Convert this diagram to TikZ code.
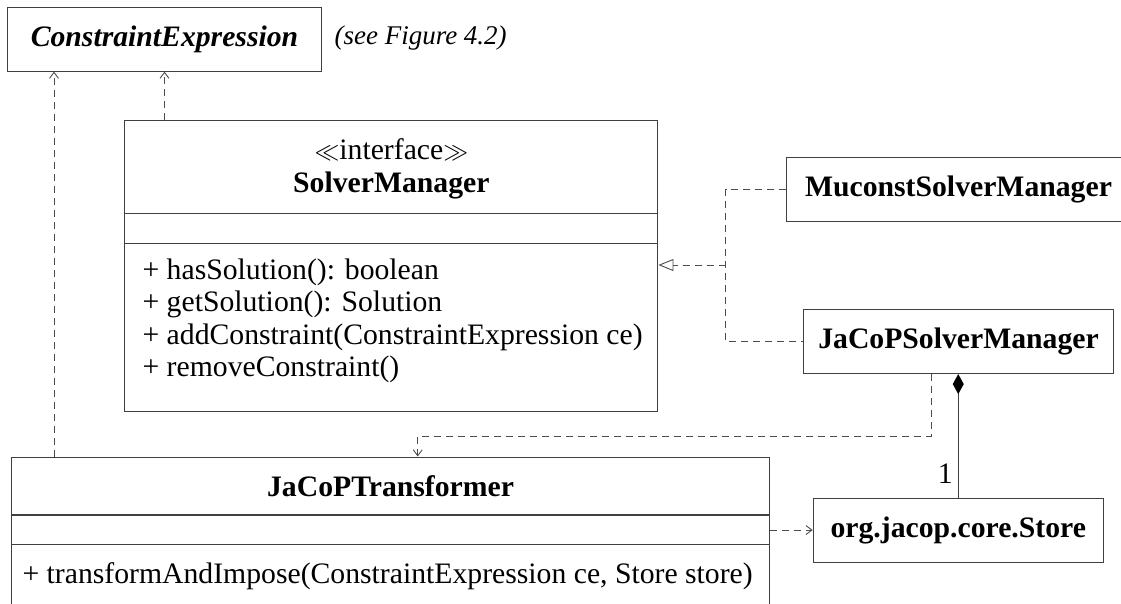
\documentclass[tikz,border=0pt]{standalone}
\usepackage{fontspec}
\setmainfont{Liberation Serif}
\usetikzlibrary{arrows.meta,calc}

\begin{document}
\begin{tikzpicture}[x=1pt,y=-1pt,
  line width=1.1pt,
  every node/.style={font=\fontsize{29.7}{32.5}\selectfont, inner sep=0pt},
  classbox/.style={draw=black!75, rectangle, anchor=north west, minimum width=#1},
  divider/.style={draw=black!75},
  dashline/.style={draw=black!70, line width=0.95pt, dash pattern=on 7pt off 5pt},
  dep/.style={dashline, -{Straight Barb[length=6pt,width=9pt,line width=0.9pt]}},
  real/.style={dashline, -{Triangle[open,length=15pt,width=12pt,line width=0.9pt]}},
  comp/.style={draw=black!75, -{Diamond[length=20pt,width=11pt,color=black,fill=black]}},
  title/.style={font=\fontsize{29.7}{32.5}\selectfont\bfseries},
  member/.style={anchor=west, align=left}
]
\path[use as bounding box, clip] (0,0) rectangle (1121,603);

% ---- ConstraintExpression (abstract) ----
\node[classbox=313.5pt, minimum height=64pt] (ce) at (7.2,6.5) {};
\node[font=\fontsize{29.7}{32.5}\selectfont\bfseries\itshape] (cet) at (ce.center) {ConstraintExpression};
\node[anchor=west, font=\fontsize{27}{32.5}\selectfont\itshape] (cen) at (334,38) {(see Figure 4.2)};

% ---- SolverManager interface ----
\node[classbox=533pt, minimum height=291pt] (sm) at (124.3,119.5) {};
\node (smst) at ($(sm.north)+(0,30.5)$) {$\ll$interface$\gg$};
\node[title] (smt) at ($(sm.north)+(0,66)$) {SolverManager};
\draw[divider] ($(sm.north west)+(0,94)$) coordinate (sm1) -- (sm1 -| sm.east);
\draw[divider] ($(sm.north west)+(0,124)$) coordinate (sm2) -- (sm2 -| sm.east);
\node[member] (smm) at (142,321) {+ hasSolution(): boolean\\+ getSolution(): Solution\\+ addConstraint(ConstraintExpression ce)\\+ removeConstraint()};

% ---- Implementations ----
\node[classbox=360pt, minimum height=64pt] (msm) at (786,157) {};
\node[title] (msmt) at (958.5,189) {MuconstSolverManager};
\node[classbox=310pt, minimum height=64pt] (jsm) at (803,309) {};
\node[title] (jsmt) at (jsm.center) {JaCoPSolverManager};

% ---- Store ----
\node[classbox=290pt, minimum height=64pt] (st) at (812.7,497.5) {};
\node[title] (stt) at (st.center) {org.jacop.core.Store};

% ---- JaCoPTransformer ----
\node[classbox=758pt, minimum height=220pt] (tr) at (11,456.5) {};
\node[title] (trt) at ($(tr.north)+(0,30)$) {JaCoPTransformer};
\draw[divider] ($(tr.north west)+(0,58.5)$) coordinate (tr1) -- (tr1 -| tr.east);
\draw[divider] ($(tr.north west)+(0,88)$) coordinate (tr2) -- (tr2 -| tr.east);
\node[member] (trm) at (22,576) {+ transformAndImpose(ConstraintExpression ce, Store store)};

% ---- Connectors ----
% dependencies on ConstraintExpression
\coordinate (ceA) at ($(ce.south west)+(46.8,0)$);
\draw[dep] (tr.north -| ceA) -- (ceA);
\draw[dep] (sm.north -| ce.south) -- (ce.south);

% realization of SolverManager
\coordinate (rj) at (725.7,265);
\draw[dashline] (msm.west) -| (rj) |- (jsm.west);
\draw[real] (rj) -- (sm.east |- rj);

% JaCoPSolverManager uses JaCoPTransformer
\coordinate (d1) at (931,436);
\coordinate (d2) at (417.7,436);
\draw[dep] (jsm.south -| d1) -- (d1) -- (d2) -- (tr.north -| d2);

% composition with Store
\draw[comp] (st.north) -- node[pos=0.19, left=5pt] (one) {1} (jsm.south -| st.north);

% JaCoPTransformer uses Store
\draw[dep] (tr.east |- st.west) -- (st.west);
\end{tikzpicture}
\end{document}
